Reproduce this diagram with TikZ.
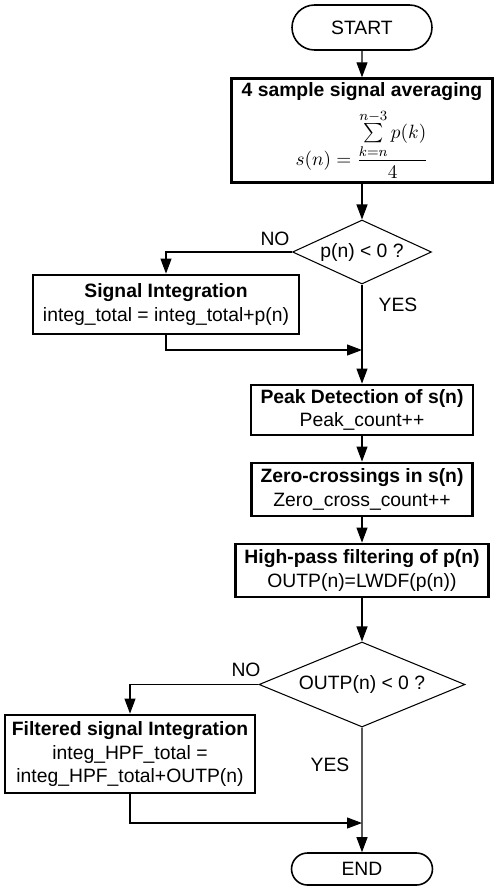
\documentclass[tikz,border=0pt]{standalone}
\usepackage{amsmath}
\usepackage[no-math]{fontspec}
\setmainfont{Liberation Sans}
\usetikzlibrary{shapes.geometric,shapes.misc,arrows.meta}

\tikzset{mbox/.style = {shape = rectangle,
                        draw,
                        line width = 1.6pt,
                        inner sep = 2pt,
                        align = center},
         mdec/.style = {shape = diamond,
                        draw,
                        line width = 0.6pt,
                        inner sep = 0pt},
         mterm/.style = {shape = rounded rectangle,
                         draw,
                         line width = 0.9pt,
                         inner sep = 0pt}}

\begin{document}
\begin{tikzpicture}[x = 0.02cm, y = -0.02cm,
                    font = \fontsize{11}{13.5}\selectfont,
                    line width = 0.6pt,
                    >={Triangle[length=0.3cm, width=0.22cm]}]
		\useasboundingbox (0,0) rectangle (500,890);
		\node[mterm, minimum width = 2.8cm, minimum height = 0.9cm] (1) at (362,27.5) {START};
		\node[mbox, minimum width = 5.22cm, minimum height = 2.02cm] (2) at (362,130.5)
			{\textbf{4 sample signal averaging}\\[4pt]$s(n)=\dfrac{\sum\limits_{k=n}^{n-3} p(k)}{4}$};
		\node[mdec, aspect = 2.17, minimum width = 2.78cm, minimum height = 1.28cm] (3) at (362,252) {p(n) < 0 ?};
		\node[mbox, minimum width = 5.32cm, minimum height = 1.18cm] (4) at (166,304.5)
			{\textbf{Signal Integration}\\integ\_total = integ\_total+p(n)};
		\node[mbox, minimum width = 4.44cm, minimum height = 1.0cm] (5) at (362,410)
			{\textbf{Peak Detection of s(n)}\\Peak\_count++};
		\node[mbox, minimum width = 4.42cm, minimum height = 1.06cm] (6) at (362,489.5)
			{\textbf{Zero-crossings in s(n)}\\Zero\_cross\_count++};
		\node[mbox, minimum width = 5.06cm, minimum height = 1.06cm] (7) at (362,570.5)
			{\textbf{High-pass filtering of p(n)}\\OUTP(n)=LWDF(p(n))};
		\node[mdec, aspect = 2.42, minimum width = 4.12cm, minimum height = 1.7cm] (8) at (362,684.5) {OUTP(n) < 0 ?};
		\node[mbox, minimum width = 5.0cm, minimum height = 1.56cm] (9) at (130,754)
			{\textbf{Filtered signal Integration}\\integ\_HPF\_total =\\integ\_HPF\_total+OUTP(n)};
		\node[mterm, minimum width = 2.82cm, minimum height = 0.64cm] (10) at (362,869) {END};
		\coordinate (j1) at (362,350);
		\coordinate (j2) at (362,823);
		\node (no1) at (275,239) {NO};
		\node (yes1) at (398,305) {YES};
		\node (no2) at (246,670) {NO};
		\node (yes2) at (330,765) {YES};
		\draw[->] (1) -- (2);
		\draw[->] (2) -- (3);
		\draw[->] (3.west) -| (4.north);
		\draw[->] (3) -- (5);
		\draw[->] (4.south) |- (j1);
		\draw[->] (5) -- (6);
		\draw[->] (6) -- (7);
		\draw[->] (7) -- (8);
		\draw[->] (8.west) -| (9.north);
		\draw[->] (8) -- (10);
		\draw[->] (9.south) |- (j2);
	\end{tikzpicture}
\end{document}
